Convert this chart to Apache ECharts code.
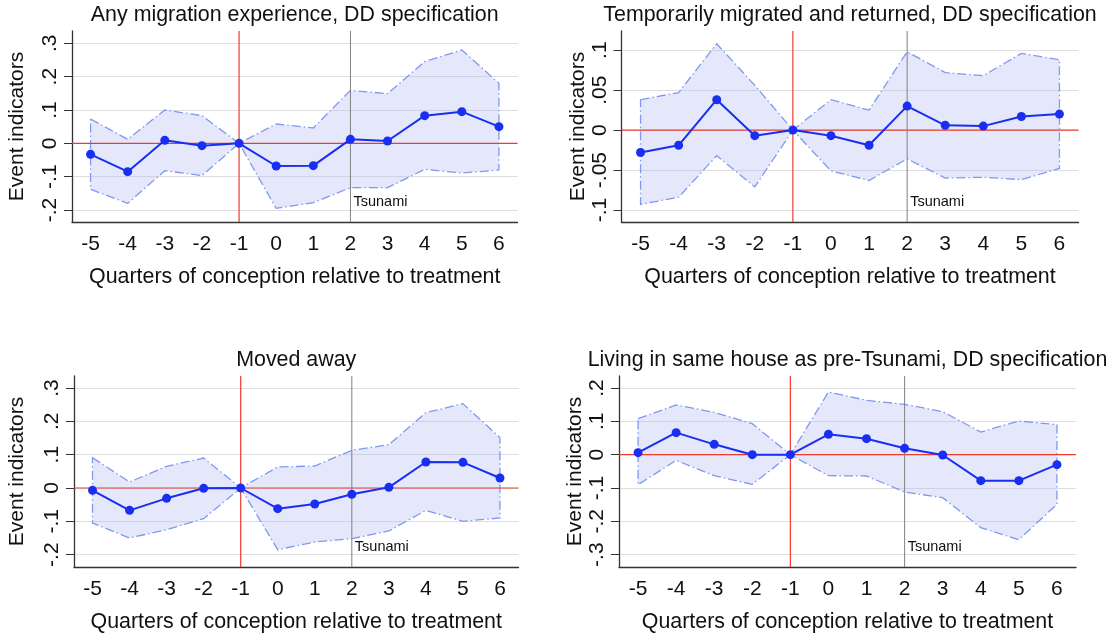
<!DOCTYPE html>
<html>
<head>
<meta charset="utf-8">
<script src="https://cdn.jsdelivr.net/npm/echarts@6/dist/echarts.min.js"></script>
<style>
  html, body { margin: 0; padding: 0; background: #fff; }
  #main { width: 1115px; height: 636px; }
</style>
</head>
<body>
<div id="main"></div>
<script>
// quarters relative to treatment
var quarters = ['-5', '-4', '-3', '-2', '-1', '0', '1', '2', '3', '4', '5', '6'];
var treatQuarter = '-1';
var tsunamiQuarter = '2';

// Any migration experience
var migCoef  = [-0.033, -0.085, 0.009, -0.007, 0, -0.068, -0.067, 0.012, 0.007, 0.083, 0.095, 0.050];
var migUpper = [0.073, 0.012, 0.100, 0.083, 0, 0.058, 0.046, 0.159, 0.149, 0.245, 0.280, 0.180];
var migLower = [-0.138, -0.180, -0.082, -0.097, 0, -0.195, -0.178, -0.133, -0.133, -0.078, -0.089, -0.080];

// Temporarily migrated and returned
var tempCoef  = [-0.028, -0.019, 0.038, -0.007, 0, -0.007, -0.019, 0.030, 0.006, 0.005, 0.017, 0.020];
var tempUpper = [0.038, 0.047, 0.108, 0.056, 0, 0.038, 0.025, 0.098, 0.072, 0.068, 0.096, 0.088];
var tempLower = [-0.093, -0.084, -0.032, -0.071, 0, -0.051, -0.063, -0.036, -0.060, -0.059, -0.062, -0.048];

// Moved away
var movedCoef  = [-0.007, -0.067, -0.031, -0.001, 0, -0.062, -0.048, -0.019, 0.002, 0.078, 0.077, 0.030];
var movedUpper = [0.091, 0.018, 0.065, 0.090, 0, 0.063, 0.066, 0.113, 0.130, 0.226, 0.253, 0.151];
var movedLower = [-0.105, -0.150, -0.125, -0.092, 0, -0.185, -0.162, -0.152, -0.129, -0.067, -0.100, -0.090];

// Living in same house as pre-Tsunami
var houseCoef  = [0.006, 0.066, 0.031, 0, 0, 0.061, 0.048, 0.019, -0.001, -0.078, -0.078, -0.030];
var houseUpper = [0.108, 0.149, 0.127, 0.093, 0, 0.188, 0.163, 0.151, 0.129, 0.068, 0.101, 0.090];
var houseLower = [-0.090, -0.017, -0.063, -0.089, 0, -0.063, -0.064, -0.112, -0.129, -0.219, -0.255, -0.149];

// y tick values per panel
var migTicks   = [-0.2, -0.1, 0, 0.1, 0.2, 0.3];
var tempTicks  = [-0.1, -0.05, 0, 0.05, 0.1];
var movedTicks = [-0.2, -0.1, 0, 0.1, 0.2, 0.3];
var houseTicks = [-0.3, -0.2, -0.1, 0, 0.1, 0.2];

var panels = [
    { title: 'Any migration experience, DD specification', coef: migCoef, upper: migUpper, lower: migLower,
      ticks: migTicks, min: -0.236, max: 0.337, left: 72, width: 445.5, top: 31, nameGap: 44 },
    { title: 'Temporarily migrated and returned, DD specification', coef: tempCoef, upper: tempUpper, lower: tempLower,
      ticks: tempTicks, min: -0.115, max: 0.124, left: 621.5, width: 457, top: 31, nameGap: 32 },
    { title: 'Moved away', coef: movedCoef, upper: movedUpper, lower: movedLower,
      ticks: movedTicks, min: -0.237, max: 0.336, left: 74, width: 444.5, top: 376, nameGap: 46 },
    { title: 'Living in same house as pre-Tsunami, DD specification', coef: houseCoef, upper: houseUpper, lower: houseLower,
      ticks: houseTicks, min: -0.337, max: 0.236, left: 619, width: 457, top: 376, nameGap: 31 }
];

var FONT = '"Liberation Sans", Arial, Helvetica, sans-serif';
var GRID_H = 191;
var BLUE = '#1a2ef2';
var RED = '#ee3b2e';

function fmt(v) {
    if (Math.abs(v) < 1e-9) return '0';
    return String(Math.round(v * 100) / 100).replace('0.', '.');
}

var option = {
    backgroundColor: '#fff',
    animation: false,
    title: [],
    grid: [],
    xAxis: [],
    yAxis: [],
    series: []
};

panels.forEach(function(p, i) {
    option.title.push({
        text: p.title,
        left: p.left + p.width / 2,
        top: p.top - 26,
        padding: 0,
        textAlign: 'center',
        textStyle: { fontFamily: FONT, fontSize: 21.4, fontWeight: 'normal', color: '#111' }
    });
    option.grid.push({ left: p.left, top: p.top, width: p.width, height: GRID_H, containLabel: false });
    option.xAxis.push({
        type: 'category',
        gridIndex: i,
        data: quarters,
        boundaryGap: true,
        name: 'Quarters of conception relative to treatment',
        nameLocation: 'middle',
        nameGap: 45,
        nameTextStyle: { fontFamily: FONT, fontSize: 21.4, color: '#111' },
        axisLine: { onZero: false, lineStyle: { color: '#333', width: 1.3 } },
        axisTick: { alignWithLabel: true, length: 6, lineStyle: { color: '#333' } },
        axisLabel: { fontFamily: FONT, fontSize: 21, color: '#111', margin: 12, interval: 0 },
        splitLine: { show: false }
    });
    option.yAxis.push({
        type: 'value',
        gridIndex: i,
        min: p.min,
        max: p.max,
        name: 'Event indicators',
        nameLocation: 'middle',
        nameGap: p.nameGap,
        nameTextStyle: { fontFamily: FONT, fontSize: 21, color: '#111' },
        axisLine: { show: true, onZero: false, lineStyle: { color: '#333', width: 1.3 } },
        axisTick: { show: true, length: 8, customValues: p.ticks, lineStyle: { color: '#333' } },
        axisLabel: { fontFamily: FONT, fontSize: 21, color: '#111', rotate: 90, margin: 11,
                     customValues: p.ticks, formatter: fmt },
        splitLine: { show: true, lineStyle: { color: '#dedede', width: 1.2 } }
    });

    var upper = p.upper, lower = p.lower;
    // confidence band drawn as one closed polygon
    option.series.push({
        type: 'custom',
        xAxisIndex: i,
        yAxisIndex: i,
        data: [[0, 0]],
        silent: true,
        z: 1,
        renderItem: function(params, api) {
            var pts = [];
            for (var k = 0; k < upper.length; k++) pts.push(api.coord([k, upper[k]]));
            for (var k = lower.length - 1; k >= 0; k--) pts.push(api.coord([k, lower[k]]));
            return {
                type: 'polygon',
                shape: { points: pts },
                style: {
                    fill: 'rgba(176,184,240,0.33)',
                    stroke: '#7f98f2',
                    lineWidth: 1.3,
                    lineDash: [9, 3, 1.5, 3]
                }
            };
        }
    });

    // reference lines: treatment quarter and zero in red, Tsunami quarter in grey
    option.series.push({
        type: 'custom',
        xAxisIndex: i,
        yAxisIndex: i,
        data: [[0, 0]],
        silent: true,
        z: 2,
        renderItem: function(params, api) {
            var cs = params.coordSys;
            var xTreat = api.coord([quarters.indexOf(treatQuarter), 0]);
            var xTsu = api.coord([quarters.indexOf(tsunamiQuarter), 0]);
            var top = cs.y, bottom = cs.y + cs.height;
            return {
                type: 'group',
                children: [
                    { type: 'line', shape: { x1: xTreat[0], y1: top, x2: xTreat[0], y2: bottom },
                      style: { stroke: RED, lineWidth: 1.2 } },
                    { type: 'line', shape: { x1: cs.x, y1: xTreat[1], x2: cs.x + cs.width, y2: xTreat[1] },
                      style: { stroke: RED, lineWidth: 1.2 } },
                    { type: 'line', shape: { x1: xTsu[0], y1: top, x2: xTsu[0], y2: bottom },
                      style: { stroke: '#808080', lineWidth: 1 } },
                    { type: 'text', x: xTsu[0] + 3, y: bottom - cs.height * 0.105,
                      style: { text: 'Tsunami', fill: '#111', font: '14.5px ' + FONT, verticalAlign: 'middle' } }
                ]
            };
        }
    });

    option.series.push({
        type: 'line',
        xAxisIndex: i,
        yAxisIndex: i,
        data: p.coef,
        z: 5,
        symbol: 'circle',
        symbolSize: 9,
        lineStyle: { color: BLUE, width: 2 },
        itemStyle: { color: BLUE }
    });
});

var chart = echarts.init(document.getElementById('main'));
chart.setOption(option);
</script>
</body>
</html>
